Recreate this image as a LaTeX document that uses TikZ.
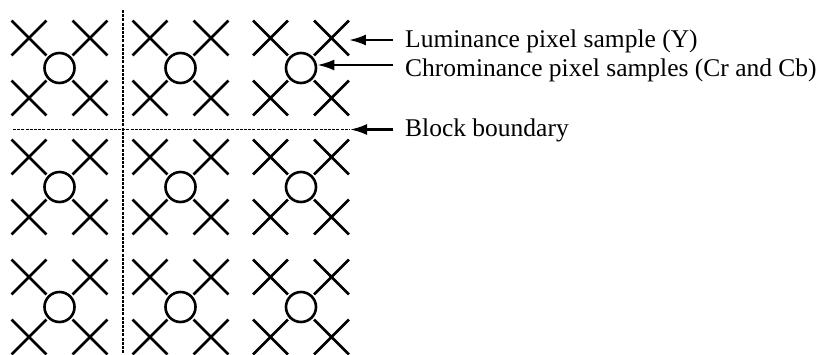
\documentclass[tikz,border=0pt]{standalone}
\usepackage{fontspec}
\setmainfont{Liberation Serif}
\usetikzlibrary{shapes.misc,arrows.meta}
\begin{document}
\begin{tikzpicture}[x=1pt,y=-1pt,
  xmark/.style={cross out,draw,line width=2.8pt,minimum size=32pt,inner sep=0pt},
  cmark/.style={circle,draw,line width=2.6pt,minimum size=30pt,inner sep=0pt},
  bound/.style={line width=1.8pt,dash pattern=on 3pt off 1.2pt},
  pointer/.style={{Latex[length=17pt,width=11pt]}-,line width=2.4pt},
  lbl/.style={anchor=base west,font=\fontsize{25.5}{28}\selectfont,inner sep=0pt}]
\useasboundingbox (0,0) rectangle (822,354);
\foreach \r/\cy in {1/68,2/187,3/307}{
  \foreach \c/\cx in {1/59.5,2/180.5,3/301}{
    \node[cmark] (o\r\c) at (\cx,\cy) {};
    \node[xmark] (tl\r\c) at (\cx-30.5,\cy-30) {};
    \node[xmark] (tr\r\c) at (\cx+30.5,\cy-30) {};
    \node[xmark] (bl\r\c) at (\cx-30.5,\cy+30) {};
    \node[xmark] (br\r\c) at (\cx+30.5,\cy+30) {};
  }
}
\coordinate (vtop) at (122.7,10);
\coordinate (vbot) at (122.7,354);
\coordinate (hleft) at (13,129.5);
\coordinate (hend) at (350,129.5);
\draw[bound] (vtop) -- (vbot);
\draw[bound] (hleft) -- (hend);
\node[lbl] (lum) at (405,47) {Luminance pixel sample (Y)};
\node[lbl] (chr) at (405,76) {Chrominance pixel samples (Cr and Cb)};
\node[lbl] (blk) at (405,136) {Block boundary};
\draw[pointer] ([yshift=-2pt]tr13.east) -- ([xshift=-12pt,yshift=-2pt]lum.west |- tr13.east);
\draw[pointer] ([yshift=3pt]o13.east) -- ([xshift=-12pt,yshift=3pt]chr.west |- o13.east);
\draw[pointer] (hend) -- ([xshift=-12pt]blk.west |- hend);
\end{tikzpicture}
\end{document}
